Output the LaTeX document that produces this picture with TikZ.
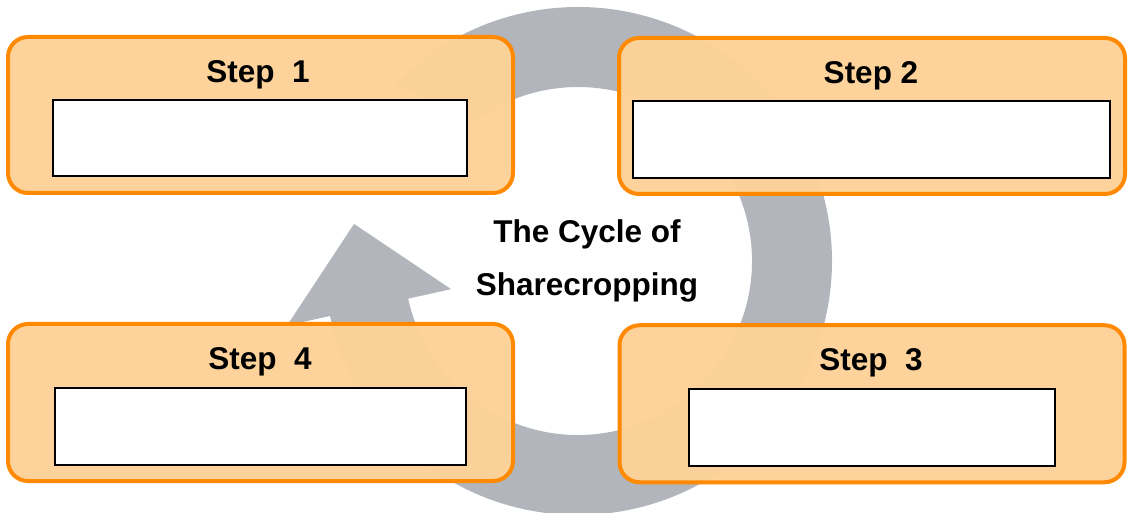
\documentclass[tikz,border=0pt]{standalone}
\usepackage{fontspec}
\setmainfont{Liberation Sans}
\usetikzlibrary{calc}
\definecolor{ringgray}{RGB}{178,181,188}
\definecolor{boxorange}{RGB}{255,137,0}
\definecolor{boxfill}{RGB}{253,210,152}
\begin{document}
\begin{tikzpicture}[x=1pt,y=1pt,
  stepbox/.style={draw=boxorange, line width=4pt, fill=boxfill, fill opacity=0.97,
    rounded corners=20pt, inner sep=0pt, minimum width=505pt},
  answerbox/.style={draw=black, line width=2pt, fill=white, inner sep=0pt},
  steplabel/.style={font=\fontsize{31.5}{38}\selectfont\bfseries, anchor=base, inner sep=0pt},
  titlelabel/.style={font=\fontsize{31.5}{38}\selectfont\bfseries, anchor=base, inner sep=0pt},
]
\useasboundingbox (0,0) rectangle (1128,512);
% cycle arrow
\coordinate (c) at (578,251);
\fill[ringgray] ($(c)+(136:254)$) arc[start angle=136, end angle=-167.5, radius=254]
  -- ($(c)+(-167.5:298)$) -- ($(c)+(170.6:227)$) -- ($(c)+(-167.5:130)$)
  -- ($(c)+(-167.5:174)$) arc[start angle=-167.5, end angle=126, radius=174] -- cycle;
% step boxes
\node[stepbox, minimum height=156pt] (s1) at (260.5,397) {};
\node[stepbox, minimum width=506pt, minimum height=156pt] (s2) at (872,396) {};
\node[stepbox, minimum height=157pt] (s3) at (872,108.25) {};
\node[stepbox, minimum height=157pt] (s4) at (260.5,109.5) {};
% answer boxes
\node[answerbox, minimum width=414pt, minimum height=76pt] (r1) at (260,374) {};
\node[answerbox, minimum width=477pt, minimum height=77pt] (r2) at (871.5,372.5) {};
\node[answerbox, minimum width=366pt, minimum height=76.5pt] (r3) at (871.5,84.25) {};
\node[answerbox, minimum width=411pt, minimum height=77pt] (r4) at (260.5,85.5) {};
% labels
\node[steplabel] (l1) at (258,429) {Step\ \ 1};
\node[steplabel] (l2) at (871,428) {Step 2};
\node[steplabel] (l3) at (871,141) {Step\ \ 3};
\node[steplabel] (l4) at (260,142) {Step\ \ 4};
\node[titlelabel] (t1) at (587,269) {The Cycle of};
\node[titlelabel] (t2) at (587,216) {Sharecropping};
\end{tikzpicture}
\end{document}
